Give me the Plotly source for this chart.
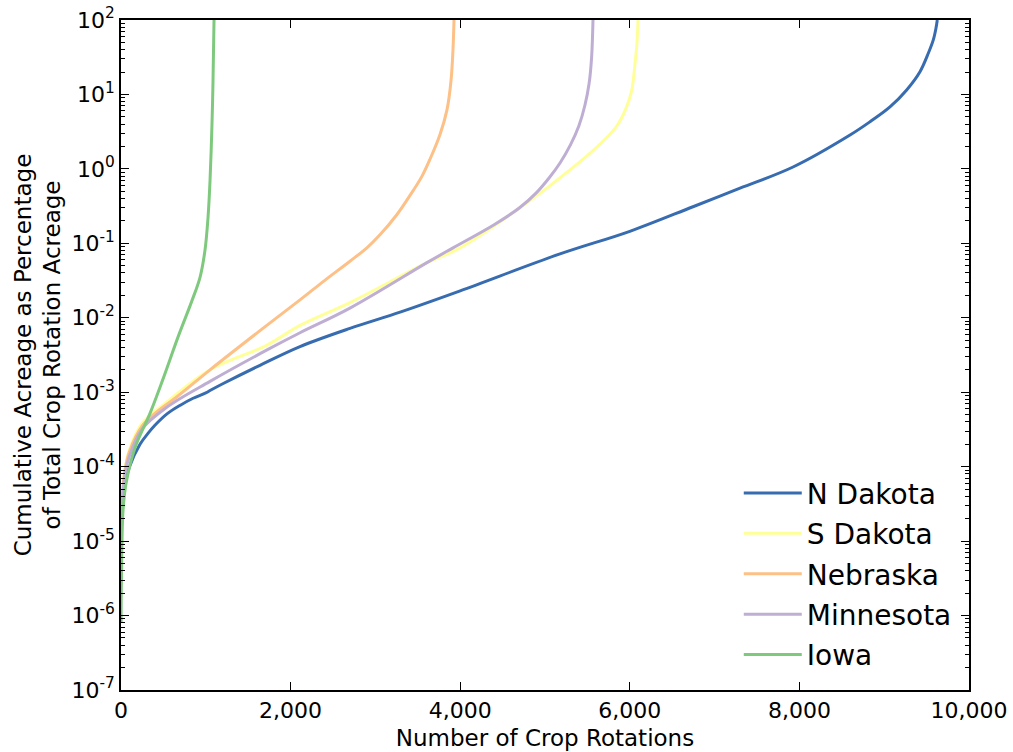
import plotly.graph_objects as go

# ---- data ----
nd_x = [1, 10, 47, 100, 224, 318, 400, 550, 700, 850, 1000, 1060, 1200, 1639, 2111, 2700, 3300,
        4000, 5177, 6000, 6745, 7300, 7925, 8597, 8833, 9068, 9265, 9422, 9520, 9579, 9611, 9626]
nd_y = [3e-6, 2e-5, 6e-5, 1.0e-4, 2.0e-4, 2.8e-4, 3.6e-4, 5.2e-4, 6.7e-4, 8.3e-4, 9.8e-4, 1.07e-3,
        1.3e-3, 2.3e-3, 4.1e-3, 7.2e-3, 0.012, 0.023, 0.072, 0.145, 0.31, 0.55, 1.06, 2.85, 4.3,
        6.8, 11.5, 20.2, 35.7, 54, 78, 100]

sd_x = [1, 10, 47, 100, 248, 542, 1050, 1722, 2111, 2700, 3608, 3998, 4941, 5177, 5495, 5708,
        5849, 5950, 6020, 6060, 6085, 6097]
sd_y = [5e-6, 3e-5, 9e-5, 1.7e-4, 3.8e-4, 7.4e-4, 2.0e-3, 4.3e-3, 7.9e-3, 0.016, 0.055, 0.087,
        0.47, 0.76, 1.5, 2.5, 3.8, 6.3, 11, 25, 50, 100]

ne_x = [1, 10, 47, 100, 248, 400, 660, 1050, 1700, 2111, 2400, 2700, 2900, 3054, 3250, 3408,
        3550, 3650, 3762, 3844, 3892, 3915, 3927]
ne_y = [5e-6, 3e-5, 9e-5, 1.6e-4, 3.5e-4, 5.2e-4, 8.7e-4, 2.0e-3, 7.6e-3, 0.0174, 0.0316, 0.0575,
        0.087, 0.13, 0.24, 0.44, 0.8, 1.4, 2.9, 6.2, 15.5, 40, 100]

mn_x = [1, 10, 47, 100, 248, 542, 1050, 1722, 2111, 2700, 3608, 3915, 4400, 4700, 4900, 5050,
        5177, 5300, 5400, 5470, 5520, 5550, 5566]
mn_y = [4e-6, 2.5e-5, 8e-5, 1.4e-4, 3.2e-4, 6.3e-4, 1.4e-3, 3.7e-3, 6.3e-3, 0.0135, 0.055, 0.087,
        0.178, 0.30, 0.48, 0.76, 1.2, 2.1, 3.8, 7.1, 14, 32, 100]

ia_x = [1, 5, 24, 60, 165, 342, 495, 672, 837, 932, 990, 1026, 1050, 1073, 1085, 1097]
ia_y = [8e-7, 3e-6, 2.6e-5, 6e-5, 1.8e-4, 5.2e-4, 1.5e-3, 5.5e-3, 0.017, 0.035, 0.08, 0.22, 0.7,
        4, 15, 100]

names = ["N Dakota", "S Dakota", "Nebraska", "Minnesota", "Iowa"]
colors = ["#386cb0", "#ffff99", "#fdc086", "#beaed4", "#7fc97f"]
series = [(nd_x, nd_y), (sd_x, sd_y), (ne_x, ne_y), (mn_x, mn_y), (ia_x, ia_y)]

y_tick_exps = [-7, -6, -5, -4, -3, -2, -1, 0, 1, 2]
x_ticks = [0, 2000, 4000, 6000, 8000, 10000]
x_tick_labels = ["0", "2,000", "4,000", "6,000", "8,000", "10,000"]

FONT = "DejaVu Sans"

fig = go.Figure()
for (xs, ys), name, c in zip(series, names, colors):
    fig.add_trace(go.Scatter(x=xs, y=ys, mode="lines", name=name, legendgroup=name,
                             line=dict(color=c, width=3, shape="spline", smoothing=1.0)))

minor_vals = [m * 10.0 ** e for e in range(-7, 2) for m in range(2, 10)]

fig.update_layout(
    width=1013, height=752,
    margin=dict(l=121, r=44, t=20, b=62, autoexpand=False),
    plot_bgcolor="white", paper_bgcolor="white",
    font=dict(family=FONT, color="black"),
    showlegend=True,
    legend=dict(x=0.7285, y=0.331, xanchor="left", yanchor="top",
                font=dict(size=28, family=FONT), bgcolor="rgba(0,0,0,0)",
                itemwidth=58,
                traceorder="grouped", tracegroupgap=1),
    xaxis=dict(range=[0, 10000], tickvals=x_ticks, ticktext=x_tick_labels,
               ticks="inside", ticklen=8, tickwidth=1, tickcolor="black",
               showline=True, linecolor="black", linewidth=1.5, mirror="allticks",
               showgrid=False, zeroline=False, automargin=False,
               tickfont=dict(size=22, family=FONT),
               title=dict(text="Number of Crop Rotations", font=dict(size=23, family=FONT),
                          standoff=8)),
    yaxis=dict(type="log", range=[-7, 2],
               tickvals=[10.0 ** e for e in y_tick_exps],
               ticktext=["10<sup>%d</sup>" % e for e in y_tick_exps],
               ticks="inside", ticklen=8, tickwidth=1, tickcolor="black",
               minor=dict(tickvals=minor_vals, ticks="inside", ticklen=4, tickcolor="black",
                          showgrid=False),
               showline=True, linecolor="black", linewidth=1.5, mirror="allticks",
               showgrid=False, zeroline=False, automargin=False,
               tickfont=dict(size=22, family=FONT),
               title=dict(text="Cumulative Acreage as Percentage<br>of Total Crop Rotation Acreage",
                          font=dict(size=23, family=FONT), standoff=4)),
)

fig.write_html("out.html")
